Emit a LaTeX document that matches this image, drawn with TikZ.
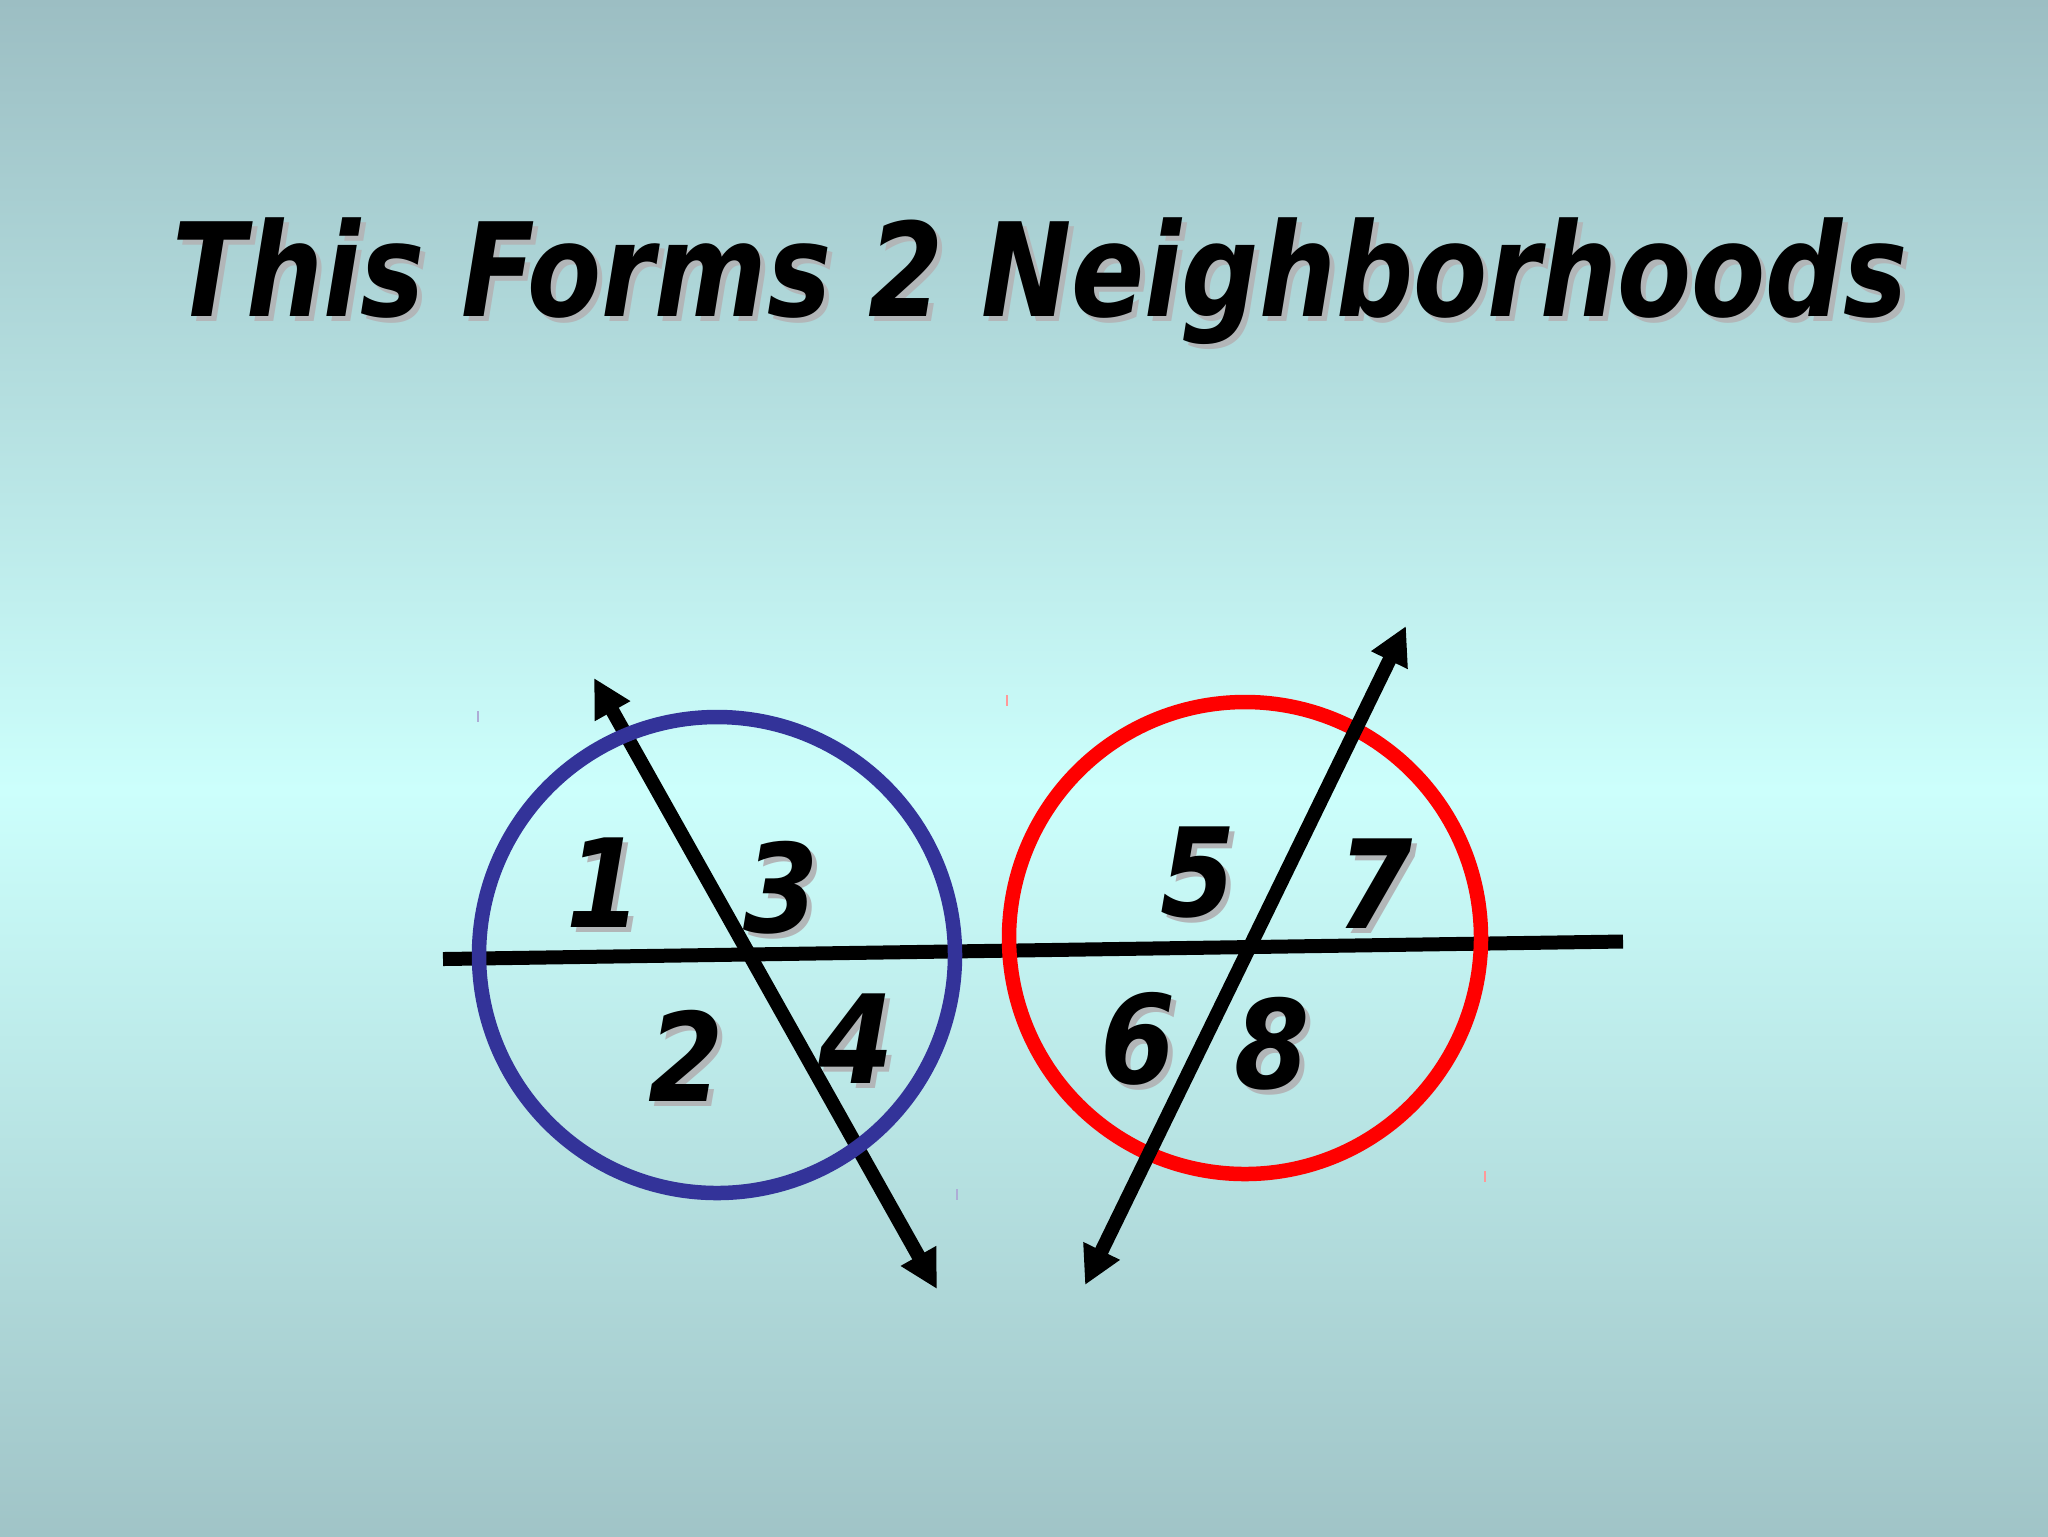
\documentclass[tikz,border=0pt]{standalone}
\usepackage{fontspec}
\usetikzlibrary{arrows.meta}
\newfontfamily\comicfont{DejaVu Sans}
\definecolor{bgedge}{RGB}{156,190,195}
\definecolor{bgmid}{RGB}{204,255,252}
\definecolor{bgbottom}{RGB}{160,196,199}
\definecolor{ringblue}{RGB}{51,51,153}
\definecolor{ringred}{RGB}{255,0,0}
\definecolor{shadowgray}{RGB}{178,182,184}
\tikzset{
  transversal/.style={line width=1.4mm, black,
    {Triangle[length=3.8mm,width=3.8mm]}-{Triangle[length=3.8mm,width=3.8mm]}},
  ring/.style={line width=1.45mm},
  title/.style={anchor=base, inner sep=0pt,
    font=\comicfont\bfseries\itshape\fontsize{37}{44}\selectfont},
  digit/.style={inner sep=0pt,
    font=\comicfont\bfseries\itshape\fontsize{35}{40}\selectfont},
  shadowed/.style={text=shadowgray},
  handle/.style={line width=0.2mm}
}
\begin{document}
\begin{tikzpicture}[x=0.1mm,y=-0.1mm]
% fond
\shade[top color=bgedge,bottom color=bgmid] (0,0) rectangle (2048,790);
\shade[top color=bgmid,bottom color=bgbottom] (0,789) rectangle (2048,1536);
\useasboundingbox (0,0) rectangle (2048,1536);
% titre
\node[title, shadowed] (titleshadow) at (1045,321) {\scalebox{0.83}[1]{This Forms 2 Neighborhoods}};
\node[title] (title) at (1040,316) {\scalebox{0.83}[1]{This Forms 2 Neighborhoods}};
% lignes
\coordinate (hl) at (443,959);
\coordinate (hr) at (1623,941.5);
\coordinate (bt) at (594,678);
\coordinate (bb) at (937,1289);
\coordinate (rt) at (1406,626);
\coordinate (rb) at (1085,1285);
\draw[line width=1.4mm] (hl) -- (hr);
\draw[ring, ringred] (1245,938) circle [radius=2.36cm];
\draw[transversal] (rb) -- (rt);
\draw[transversal] (bt) -- (bb);
\draw[ring, ringblue] (717,955) circle [radius=2.38cm];
% petites marques
\draw[handle, ringblue!40] (478,711) -- (478,722);
\draw[handle, ringblue!40] (957,1189) -- (957,1200);
\draw[handle, ringred!40] (1007,695) -- (1007,706);
\draw[handle, ringred!40] (1485,1171) -- (1485,1182);
% chiffres avec ombre
\foreach \n/\x/\y in {1/604/883,3/781/888,2/686/1056,4/856/1039,5/1198/873,7/1375/884,6/1138/1039,8/1272/1044}
{
  \node[digit, shadowed] (s\n) at (\x+5,\y+5) {\scalebox{0.88}[1]{\n}};
  \node[digit] (d\n) at (\x,\y) {\scalebox{0.88}[1]{\n}};
}
\end{tikzpicture}
\end{document}
